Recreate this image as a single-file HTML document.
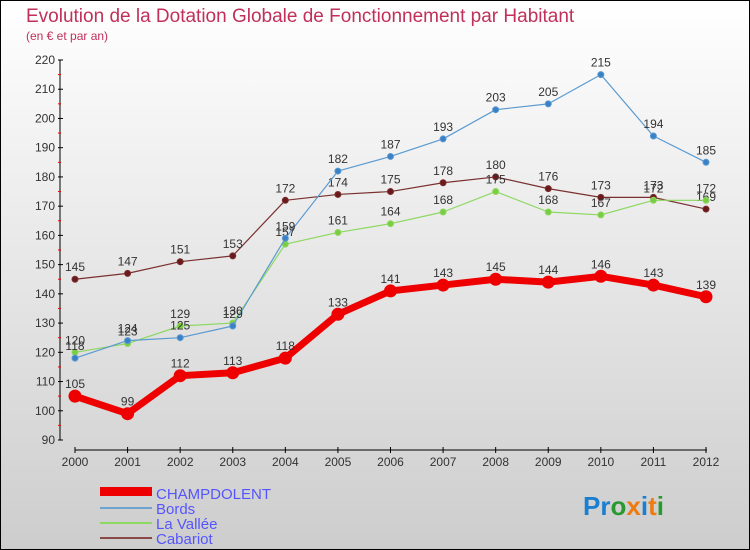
<!DOCTYPE html>
<html><head><meta charset="utf-8"><style>
body{margin:0}
#wrap{width:750px;height:550px;position:relative;overflow:hidden}
svg{display:block;font-family:"Liberation Sans",sans-serif}
</style></head><body>
<div id="wrap">
<svg id="c" width="750" height="550">
<defs><linearGradient id="bg" x1="0" y1="0" x2="0" y2="1"><stop offset="0" stop-color="#ffffff"/><stop offset="1" stop-color="#cdcdcd"/></linearGradient></defs>
<rect x="0.5" y="0.5" width="749" height="549" fill="url(#bg)" stroke="#000"/>
<text x="26" y="22" font-size="19" fill="#c0305a">Evolution de la Dotation Globale de Fonctionnement par Habitant</text>
<text x="26" y="40" font-size="12" fill="#c0305a">(en € et par an)</text>
<g id="axes"></g><g id="series"></g>
<g>
<rect x="100" y="487" width="52" height="9" fill="#e00"/>
<text x="156" y="499" font-size="15" fill="#5555ff">CHAMPDOLENT</text>
<line x1="100" y1="508" x2="152" y2="508" stroke="#6ea3d0" stroke-width="2"/>
<text x="156" y="514" font-size="15" fill="#5555ff">Bords</text>
<line x1="100" y1="523" x2="152" y2="523" stroke="#8cd860" stroke-width="2"/>
<text x="156" y="529" font-size="15" fill="#5555ff">La Vallée</text>
<line x1="100" y1="538" x2="152" y2="538" stroke="#8a4a4a" stroke-width="2"/>
<text x="156" y="544" font-size="15" fill="#5555ff">Cabariot</text>
</g>
<text x="583" y="515" font-size="26" font-weight="bold"><tspan fill="#1a7fd0">Pr</tspan><tspan fill="#2a9a30">o</tspan><tspan fill="#ee7a10">x</tspan><tspan fill="#1a7fd0">i</tspan><tspan fill="#ee7a10">t</tspan><tspan fill="#2a9a30">i</tspan></text>
</svg></div>
<script>
const years=[2000,2001,2002,2003,2004,2005,2006,2007,2008,2009,2010,2011,2012];
const champdolent=[105,99,112,113,118,133,141,143,145,144,146,143,139];
const bords=[118,124,125,129,159,182,187,193,203,205,215,194,185];
const laVallee=[120,123,129,130,157,161,164,168,175,168,167,172,172];
const cabariot=[145,147,151,153,172,174,175,178,180,176,173,173,169];
const yTicks=[90,100,110,120,130,140,150,160,170,180,190,200,210,220];
const NS="http://www.w3.org/2000/svg";
const X=i=>75+i*(706-75)/12;
const Y=v=>440-(v-90)*(380/130);
function mk(t,a,p){const e=document.createElementNS(NS,t);for(const k in a)e.setAttribute(k,a[k]);p.appendChild(e);return e;}
const ax=document.getElementById('axes');
let e=mk('line',{x1:60,y1:Y(220),x2:60,y2:Y(90),stroke:'#000'},ax);


e=mk('line',{x1:75,y1:450,x2:707,y2:450,stroke:'#000'},ax);


yTicks.forEach(v=>{
 mk('line',{x1:58,x2:63,y1:Y(v),y2:Y(v),stroke:'#000'},ax);
 if(v<220) mk('line',{x1:58,x2:61,y1:Y(v+5),y2:Y(v+5),stroke:'#e00'},ax);
 const t=mk('text',{x:55,y:Y(v)+4,'text-anchor':'end','font-size':12,fill:'#333'},ax);
 t.textContent=v;
 
 
});
years.forEach((yr,i)=>{
 mk('line',{x1:X(i),x2:X(i),y1:447,y2:453,stroke:'#000'},ax);
 const t=mk('text',{x:X(i),y:466,'text-anchor':'middle','font-size':12,fill:'#333'},ax);
 t.textContent=yr;
 
 
});
const sg=document.getElementById('series');
function draw(data,name,color,dot,w,r){
 const g=mk('g',{},sg);
 
 
 const p=mk('polyline',{points:data.map((v,i)=>X(i)+','+Y(v)).join(' '),fill:'none',stroke:color,'stroke-width':w,'stroke-linejoin':'round'},g);
 
 
 data.forEach((v,i)=>{
  const c=mk('circle',{cx:X(i),cy:Y(v),r:r,fill:dot,stroke:color,'stroke-width':1},g);
  
  
  const t=mk('text',{x:X(i),y:Y(v)-8,'text-anchor':'middle','font-size':12,fill:'#333'},g);
  t.textContent=v;
  
  
 });
}
draw(cabariot,'cabariot','#7a3030','#6a1a1a',1.2,3);
draw(laVallee,'la-vallee','#8cd860','#7acc40',1.2,3);
draw(bords,'bords','#5a9ad0','#3a80c8',1.2,3);
draw(champdolent,'champdolent','#ee0000','#ee0000',7,6);
</script>
</body></html>
